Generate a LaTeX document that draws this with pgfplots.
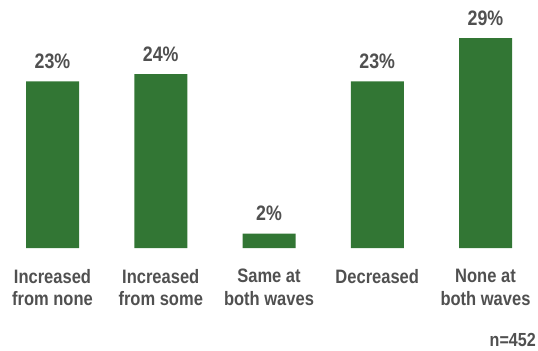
\documentclass[border=0pt]{standalone}
\usepackage{pgfplots}
\pgfplotsset{compat=1.18}
\usepackage{fontspec}
\setmainfont{Liberation Sans}[FakeStretch=0.85]
\definecolor{bargreen}{RGB}{50,118,52}
\definecolor{txtgray}{RGB}{80,80,80}
\begin{document}
\begin{tikzpicture}
\begin{axis}[
  scale only axis, width=538bp, height=351bp,
  xmin=-0.485, xmax=4.485, ymin=-14.22, ymax=34.25,
  enlargelimits=false,
  axis lines=none, ticks=none,
  ybar, bar width=53bp,
  /pgf/number format/assume math mode=true,
  nodes near coords={\pgfmathprintnumber{\pgfplotspointmeta}\%},
  every node near coord/.append style={font=\fontsize{21}{23}\selectfont\bfseries, text=txtgray, yshift=9bp},
  clip=false,
]
\path (rel axis cs:0,0) rectangle (rel axis cs:1,1);
\addplot[fill=bargreen, draw=none] coordinates {(0,23) (1,24) (2,2) (3,23) (4,29)};
\foreach \i/\lab in {0/{Increased\\from none},1/{Increased\\from some},2/{Same at\\both waves},3/{Decreased},4/{None at\\both waves}}{
  \edef\tmp{\noexpand\node[anchor=north, align=center, text=txtgray, font=\noexpand\fontsize{19.5}{23}\noexpand\selectfont\noexpand\bfseries] at (axis cs:\i,-2.4) {\unexpanded\expandafter{\lab}};}
  \tmp
}
\node[anchor=south east, text=txtgray, font=\fontsize{19}{21}\selectfont\bfseries, inner xsep=2bp, inner ysep=4bp] at (rel axis cs:1,0) {n=452};
\end{axis}
\end{tikzpicture}
\end{document}
